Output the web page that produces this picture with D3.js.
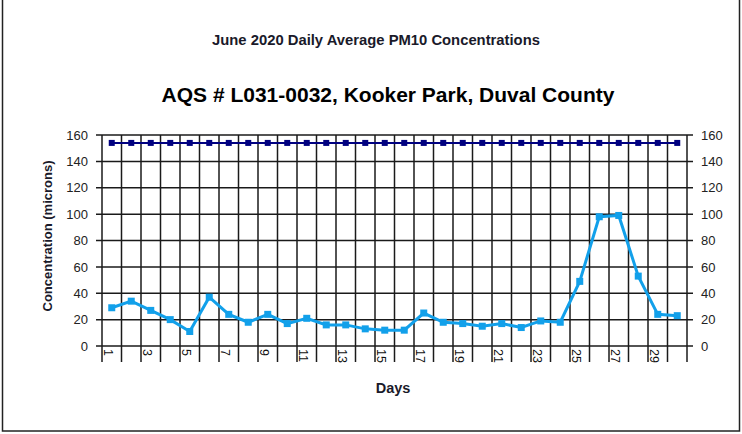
<!DOCTYPE html>
<html>
<head>
<meta charset="utf-8">
<script src="https://cdn.jsdelivr.net/npm/d3@7"></script>
<style>
  body { margin: 0; background: #fff; }
  text { font-family: "Liberation Sans", Arial, sans-serif; }
</style>
</head>
<body>
<script>
const days = [1, 2, 3, 4, 5, 6, 7, 8, 9, 10, 11, 12, 13, 14, 15,
              16, 17, 18, 19, 20, 21, 22, 23, 24, 25, 26, 27, 28, 29, 30];
const pm10 = [29, 34, 27, 20, 11, 37, 24, 18, 24, 17, 21, 16, 16, 13, 12,
              12, 25, 18, 17, 15, 17, 14, 19, 18, 49, 98, 99, 53, 24, 23];
const standard = [154, 154, 154, 154, 154, 154, 154, 154, 154, 154, 154, 154, 154, 154, 154,
                  154, 154, 154, 154, 154, 154, 154, 154, 154, 154, 154, 154, 154, 154, 154];
const yTicks = [0, 20, 40, 60, 80, 100, 120, 140, 160];
const dayLabels = [1, 3, 5, 7, 9, 11, 13, 15, 17, 19, 21, 23, 25, 27, 29];

const svgWidth = 742;
const svgHeight = 434;
const plot = {left: 102, right: 687, top: 135, bottom: 346};

const svg = d3.select("body")
    .append("svg")
    .attr("width", svgWidth)
    .attr("height", svgHeight);

// outer frame
svg.append("rect")
    .attr("x", 2.5).attr("y", -1)
    .attr("width", 737).attr("height", 432)
    .attr("fill", "none")
    .attr("stroke", "#222")
    .attr("stroke-width", 1.5);

const x = d3.scaleBand()
    .domain(days)
    .range([plot.left, plot.right])
    .paddingInner(0).paddingOuter(0);

const y = d3.scaleLinear()
    .domain([0, 160])
    .range([plot.bottom, plot.top]);

const cx = d => x(d) + x.bandwidth() / 2;

// horizontal gridlines (extend a little past both sides as tick marks)
svg.append("g")
    .selectAll("line")
    .data(yTicks)
    .join("line")
    .attr("x1", plot.left - 6)
    .attr("x2", plot.right + 6)
    .attr("y1", d => y(d))
    .attr("y2", d => y(d))
    .attr("stroke", "#1a1a1a")
    .attr("stroke-width", 1.5);

// vertical gridlines at category boundaries, running down as tick marks
const edges = days.map(d => x(d)).concat([x.range()[1]]);
svg.append("g")
    .selectAll("line")
    .data(edges)
    .join("line")
    .attr("x1", d => d)
    .attr("x2", d => d)
    .attr("y1", plot.top)
    .attr("y2", plot.bottom + 16)
    .attr("stroke", "#1a1a1a")
    .attr("stroke-width", 1.5);

// y tick labels, both sides
const yAxisL = d3.axisLeft(y).tickValues(yTicks).tickSize(0).tickPadding(14);
const yAxisR = d3.axisRight(y).tickValues(yTicks).tickSize(0).tickPadding(14);

const gL = svg.append("g").attr("transform", `translate(${plot.left},0)`).call(yAxisL);
const gR = svg.append("g").attr("transform", `translate(${plot.right},0)`).call(yAxisR);
[gL, gR].forEach(g => {
    g.select(".domain").remove();
    g.selectAll("text")
        .style("font-size", "13px")
        .style("font-family", "'Liberation Sans', Arial, sans-serif")
        .attr("fill", "#222");
});

// x tick labels, rotated
svg.append("g")
    .selectAll("text")
    .data(dayLabels)
    .join("text")
    .attr("transform", d => `translate(${x(d) + 2},${plot.bottom + 3}) rotate(90)`)
    .attr("text-anchor", "start")
    .style("font-size", "12.5px")
    .attr("fill", "#111")
    .text(d => d);

// standard line
const line = d3.line()
    .x((d, i) => cx(days[i]))
    .y(d => y(d));

svg.append("path")
    .datum(standard)
    .attr("d", line)
    .attr("fill", "none")
    .attr("stroke", "#000080")
    .attr("stroke-width", 2);

svg.append("g")
    .selectAll("rect")
    .data(standard)
    .join("rect")
    .attr("x", (d, i) => cx(days[i]) - 3)
    .attr("y", d => y(d) - 3)
    .attr("width", 6)
    .attr("height", 6)
    .attr("fill", "#000080");

// pm10 series
svg.append("path")
    .datum(pm10)
    .attr("d", line)
    .attr("fill", "none")
    .attr("stroke", "#12A0EA")
    .attr("stroke-width", 3);

svg.append("g")
    .selectAll("rect")
    .data(pm10)
    .join("rect")
    .attr("x", (d, i) => cx(days[i]) - 3.5)
    .attr("y", d => y(d) - 3.5)
    .attr("width", 7)
    .attr("height", 7)
    .attr("fill", "#12A0EA");

// titles
svg.append("text")
    .attr("x", 376).attr("y", 45)
    .attr("text-anchor", "middle")
    .style("font-size", "14.8px")
    .style("font-weight", "bold")
    .attr("fill", "#1a1a2a")
    .text("June 2020 Daily Average PM10 Concentrations");

svg.append("text")
    .attr("x", 388).attr("y", 102)
    .attr("text-anchor", "middle")
    .style("font-size", "21px")
    .style("font-weight", "bold")
    .attr("fill", "#000")
    .text("AQS # L031-0032, Kooker Park, Duval County");

svg.append("text")
    .attr("x", 393).attr("y", 393)
    .attr("text-anchor", "middle")
    .style("font-size", "14.5px")
    .style("font-weight", "bold")
    .attr("fill", "#1a1a2a")
    .text("Days");

svg.append("text")
    .attr("transform", `translate(52,236) rotate(-90)`)
    .attr("text-anchor", "middle")
    .style("font-size", "13px")
    .style("font-weight", "bold")
    .attr("fill", "#1a1a2a")
    .text("Concentration (microns)");
</script>
</body>
</html>
